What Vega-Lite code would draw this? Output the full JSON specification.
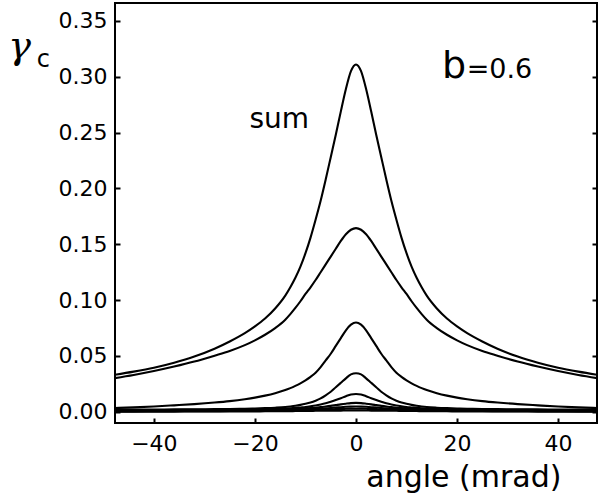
{
  "$schema": "https://vega.github.io/schema/vega-lite/v6.json",
  "width": 482,
  "height": 420,
  "autosize": {"type": "none"},
  "padding": {"left": 115, "top": 3, "right": 3, "bottom": 75},
  "background": "white",
  "config": {
    "view": {"stroke": "black", "strokeWidth": 2},
    "axis": {"domain": false, "grid": false, "tickColor": "black", "tickWidth": 2, "labelColor": "black", "titleColor": "black", "labelFont": "DejaVu Sans", "titleFont": "DejaVu Sans", "titleFontWeight": "normal"}
  },
  "datasets": {
    "curves": [
      {"x": -48, "s": 0.033, "a": 0.030, "b": 0.0034, "d": 0.002, "e": 0.0015, "f": 0.0012, "h": 0.0008, "k": 0.0004, "m": 0.0002},
      {"x": -44, "s": 0.036, "a": 0.033, "b": 0.004, "d": 0.002, "e": 0.0015, "f": 0.0012, "h": 0.0008, "k": 0.0004, "m": 0.0002},
      {"x": -40, "s": 0.0395, "a": 0.0365, "b": 0.0048, "d": 0.0021, "e": 0.0016, "f": 0.0013, "h": 0.0009, "k": 0.0005, "m": 0.0002},
      {"x": -36, "s": 0.044, "a": 0.0405, "b": 0.0058, "d": 0.0022, "e": 0.0017, "f": 0.0014, "h": 0.0009, "k": 0.0005, "m": 0.0002},
      {"x": -32, "s": 0.0495, "a": 0.045, "b": 0.0069, "d": 0.0023, "e": 0.0018, "f": 0.0015, "h": 0.001, "k": 0.0006, "m": 0.0003},
      {"x": -28, "s": 0.0565, "a": 0.0503, "b": 0.0083, "d": 0.0024, "e": 0.0019, "f": 0.0016, "h": 0.001, "k": 0.0006, "m": 0.0003},
      {"x": -25, "s": 0.063, "a": 0.0545, "b": 0.0096, "d": 0.0026, "e": 0.002, "f": 0.0017, "h": 0.0011, "k": 0.0007, "m": 0.0003},
      {"x": -22, "s": 0.0705, "a": 0.0597, "b": 0.0113, "d": 0.0028, "e": 0.0022, "f": 0.0018, "h": 0.0012, "k": 0.0008, "m": 0.0004},
      {"x": -20, "s": 0.0765, "a": 0.064, "b": 0.0127, "d": 0.003, "e": 0.0023, "f": 0.0019, "h": 0.0013, "k": 0.0009, "m": 0.0004},
      {"x": -18, "s": 0.0835, "a": 0.069, "b": 0.0145, "d": 0.0033, "e": 0.0025, "f": 0.002, "h": 0.0015, "k": 0.001, "m": 0.0005},
      {"x": -16, "s": 0.0925, "a": 0.075, "b": 0.0167, "d": 0.0037, "e": 0.0027, "f": 0.0022, "h": 0.0016, "k": 0.0011, "m": 0.0005},
      {"x": -14, "s": 0.104, "a": 0.0825, "b": 0.0195, "d": 0.0043, "e": 0.003, "f": 0.0024, "h": 0.0018, "k": 0.0012, "m": 0.0006},
      {"x": -13, "s": 0.1115, "a": 0.0875, "b": 0.0212, "d": 0.0048, "e": 0.0032, "f": 0.0025, "h": 0.0019, "k": 0.0012, "m": 0.0006},
      {"x": -12, "s": 0.120, "a": 0.093, "b": 0.0232, "d": 0.0054, "e": 0.0035, "f": 0.0026, "h": 0.002, "k": 0.0013, "m": 0.0007},
      {"x": -11, "s": 0.130, "a": 0.099, "b": 0.0255, "d": 0.0062, "e": 0.0039, "f": 0.0028, "h": 0.0021, "k": 0.0014, "m": 0.0007},
      {"x": -10, "s": 0.142, "a": 0.1055, "b": 0.0282, "d": 0.0072, "e": 0.0043, "f": 0.0031, "h": 0.0022, "k": 0.0015, "m": 0.0008},
      {"x": -9, "s": 0.156, "a": 0.1115, "b": 0.0313, "d": 0.0084, "e": 0.0049, "f": 0.0034, "h": 0.0024, "k": 0.0016, "m": 0.0008},
      {"x": -8, "s": 0.172, "a": 0.118, "b": 0.035, "d": 0.010, "e": 0.0056, "f": 0.0037, "h": 0.0026, "k": 0.0018, "m": 0.0009},
      {"x": -7, "s": 0.189, "a": 0.125, "b": 0.040, "d": 0.012, "e": 0.0065, "f": 0.0042, "h": 0.0028, "k": 0.0019, "m": 0.0009},
      {"x": -6, "s": 0.208, "a": 0.132, "b": 0.046, "d": 0.0148, "e": 0.0076, "f": 0.0047, "h": 0.0031, "k": 0.0021, "m": 0.001},
      {"x": -5, "s": 0.228, "a": 0.139, "b": 0.052, "d": 0.018, "e": 0.009, "f": 0.0053, "h": 0.0034, "k": 0.0022, "m": 0.001},
      {"x": -4, "s": 0.248, "a": 0.146, "b": 0.059, "d": 0.022, "e": 0.0105, "f": 0.006, "h": 0.0038, "k": 0.0024, "m": 0.0011},
      {"x": -3, "s": 0.269, "a": 0.153, "b": 0.066, "d": 0.026, "e": 0.0122, "f": 0.0067, "h": 0.0041, "k": 0.0026, "m": 0.0011},
      {"x": -2, "s": 0.289, "a": 0.159, "b": 0.073, "d": 0.030, "e": 0.014, "f": 0.0073, "h": 0.0045, "k": 0.0027, "m": 0.0012},
      {"x": -1, "s": 0.305, "a": 0.163, "b": 0.078, "d": 0.0335, "e": 0.0155, "f": 0.0078, "h": 0.0047, "k": 0.0028, "m": 0.0012},
      {"x": 0, "s": 0.311, "a": 0.1645, "b": 0.080, "d": 0.0345, "e": 0.016, "f": 0.008, "h": 0.0048, "k": 0.0028, "m": 0.0012},
      {"x": 1, "s": 0.305, "a": 0.163, "b": 0.078, "d": 0.0335, "e": 0.0155, "f": 0.0078, "h": 0.0047, "k": 0.0028, "m": 0.0012},
      {"x": 2, "s": 0.289, "a": 0.159, "b": 0.073, "d": 0.030, "e": 0.014, "f": 0.0073, "h": 0.0045, "k": 0.0027, "m": 0.0012},
      {"x": 3, "s": 0.269, "a": 0.153, "b": 0.066, "d": 0.026, "e": 0.0122, "f": 0.0067, "h": 0.0041, "k": 0.0026, "m": 0.0011},
      {"x": 4, "s": 0.248, "a": 0.146, "b": 0.059, "d": 0.022, "e": 0.0105, "f": 0.006, "h": 0.0038, "k": 0.0024, "m": 0.0011},
      {"x": 5, "s": 0.228, "a": 0.139, "b": 0.052, "d": 0.018, "e": 0.009, "f": 0.0053, "h": 0.0034, "k": 0.0022, "m": 0.001},
      {"x": 6, "s": 0.208, "a": 0.132, "b": 0.046, "d": 0.0148, "e": 0.0076, "f": 0.0047, "h": 0.0031, "k": 0.0021, "m": 0.001},
      {"x": 7, "s": 0.189, "a": 0.125, "b": 0.040, "d": 0.012, "e": 0.0065, "f": 0.0042, "h": 0.0028, "k": 0.0019, "m": 0.0009},
      {"x": 8, "s": 0.172, "a": 0.118, "b": 0.035, "d": 0.010, "e": 0.0056, "f": 0.0037, "h": 0.0026, "k": 0.0018, "m": 0.0009},
      {"x": 9, "s": 0.156, "a": 0.1115, "b": 0.0313, "d": 0.0084, "e": 0.0049, "f": 0.0034, "h": 0.0024, "k": 0.0016, "m": 0.0008},
      {"x": 10, "s": 0.142, "a": 0.1055, "b": 0.0282, "d": 0.0072, "e": 0.0043, "f": 0.0031, "h": 0.0022, "k": 0.0015, "m": 0.0008},
      {"x": 11, "s": 0.130, "a": 0.099, "b": 0.0255, "d": 0.0062, "e": 0.0039, "f": 0.0028, "h": 0.0021, "k": 0.0014, "m": 0.0007},
      {"x": 12, "s": 0.120, "a": 0.093, "b": 0.0232, "d": 0.0054, "e": 0.0035, "f": 0.0026, "h": 0.002, "k": 0.0013, "m": 0.0007},
      {"x": 13, "s": 0.1115, "a": 0.0875, "b": 0.0212, "d": 0.0048, "e": 0.0032, "f": 0.0025, "h": 0.0019, "k": 0.0012, "m": 0.0006},
      {"x": 14, "s": 0.104, "a": 0.0825, "b": 0.0195, "d": 0.0043, "e": 0.003, "f": 0.0024, "h": 0.0018, "k": 0.0012, "m": 0.0006},
      {"x": 16, "s": 0.0925, "a": 0.075, "b": 0.0167, "d": 0.0037, "e": 0.0027, "f": 0.0022, "h": 0.0016, "k": 0.0011, "m": 0.0005},
      {"x": 18, "s": 0.0835, "a": 0.069, "b": 0.0145, "d": 0.0033, "e": 0.0025, "f": 0.002, "h": 0.0015, "k": 0.001, "m": 0.0005},
      {"x": 20, "s": 0.0765, "a": 0.064, "b": 0.0127, "d": 0.003, "e": 0.0023, "f": 0.0019, "h": 0.0013, "k": 0.0009, "m": 0.0004},
      {"x": 22, "s": 0.0705, "a": 0.0597, "b": 0.0113, "d": 0.0028, "e": 0.0022, "f": 0.0018, "h": 0.0012, "k": 0.0008, "m": 0.0004},
      {"x": 25, "s": 0.063, "a": 0.0545, "b": 0.0096, "d": 0.0026, "e": 0.002, "f": 0.0017, "h": 0.0011, "k": 0.0007, "m": 0.0003},
      {"x": 28, "s": 0.0565, "a": 0.0503, "b": 0.0083, "d": 0.0024, "e": 0.0019, "f": 0.0016, "h": 0.001, "k": 0.0006, "m": 0.0003},
      {"x": 32, "s": 0.0495, "a": 0.045, "b": 0.0069, "d": 0.0023, "e": 0.0018, "f": 0.0015, "h": 0.001, "k": 0.0006, "m": 0.0003},
      {"x": 36, "s": 0.044, "a": 0.0405, "b": 0.0058, "d": 0.0022, "e": 0.0017, "f": 0.0014, "h": 0.0009, "k": 0.0005, "m": 0.0002},
      {"x": 40, "s": 0.0395, "a": 0.0365, "b": 0.0048, "d": 0.0021, "e": 0.0016, "f": 0.0013, "h": 0.0009, "k": 0.0005, "m": 0.0002},
      {"x": 44, "s": 0.036, "a": 0.033, "b": 0.004, "d": 0.002, "e": 0.0015, "f": 0.0012, "h": 0.0008, "k": 0.0004, "m": 0.0002},
      {"x": 48, "s": 0.033, "a": 0.030, "b": 0.0034, "d": 0.002, "e": 0.0015, "f": 0.0012, "h": 0.0008, "k": 0.0004, "m": 0.0002}
    ]
  },
  "resolve": {"axis": {"x": "independent", "y": "independent"}},
  "layer": [
    {
      "data": {"name": "curves"},
      "transform": [{"fold": ["s", "a", "b", "d", "e", "f", "h", "k", "m"], "as": ["curve", "value"]}],
      "mark": {"type": "line", "interpolate": "monotone", "clip": true, "color": "black", "strokeWidth": 2.1},
      "encoding": {
        "x": {"field": "x", "type": "quantitative",
          "scale": {"domain": [-47.7, 47.7], "nice": false, "zero": false},
          "axis": {"orient": "bottom", "values": [-40, -20, 0, 20, 40], "format": "d", "offset": -5, "tickSize": 5, "labelPadding": 10, "labelFontSize": 22, "labelFlush": false,
            "title": "angle (mrad)", "titleFontSize": 30, "titleAnchor": "end", "titleAlign": "right", "titleBaseline": "alphabetic", "titleX": 446, "titleY": 68}},
        "y": {"field": "value", "type": "quantitative",
          "scale": {"domain": [-0.01, 0.366], "nice": false, "zero": false},
          "axis": {"orient": "left", "values": [0, 0.05, 0.1, 0.15, 0.2, 0.25, 0.3, 0.35], "format": ".2f", "offset": -5, "tickSize": 5, "labelPadding": 8, "labelFontSize": 22, "labelFlush": false,
            "title": "γ", "titleFont": "DejaVu Serif", "titleFontStyle": "italic", "titleFontSize": 38, "titleAngle": 0, "titleAlign": "center", "titleBaseline": "alphabetic", "titleX": -101, "titleY": 54}},
        "detail": {"field": "curve"}
      }
    },
    {
      "data": {"values": [{"label": "c", "x": -63.2, "y": 0.309}]},
      "mark": {"type": "text", "font": "DejaVu Sans", "fontSize": 24, "align": "left", "baseline": "alphabetic", "color": "black"},
      "encoding": {
        "x": {"field": "x", "type": "quantitative", "axis": null},
        "y": {"field": "y", "type": "quantitative",
          "axis": {"orient": "right", "values": [0, 0.05, 0.1, 0.15, 0.2, 0.25, 0.3, 0.35], "labels": false, "offset": -5, "tickSize": 5, "title": null}},
        "text": {"field": "label"}
      }
    },
    {
      "data": {"values": [{"label": "sum", "x": -15.2, "y": 0.2545}]},
      "mark": {"type": "text", "font": "DejaVu Sans", "fontSize": 28, "align": "center", "baseline": "alphabetic", "color": "black"},
      "encoding": {
        "x": {"field": "x", "type": "quantitative", "axis": null},
        "y": {"field": "y", "type": "quantitative", "axis": null},
        "text": {"field": "label"}
      }
    },
    {
      "data": {"values": [{"label": "b", "x": 17.0, "y": 0.2993}]},
      "mark": {"type": "text", "font": "DejaVu Sans", "fontSize": 38, "align": "left", "baseline": "alphabetic", "color": "black"},
      "encoding": {
        "x": {"field": "x", "type": "quantitative", "axis": null},
        "y": {"field": "y", "type": "quantitative", "axis": null},
        "text": {"field": "label"}
      }
    },
    {
      "data": {"values": [{"label": "=0.6", "x": 21.9, "y": 0.2993}]},
      "mark": {"type": "text", "font": "DejaVu Sans", "fontSize": 27, "align": "left", "baseline": "alphabetic", "color": "black"},
      "encoding": {
        "x": {"field": "x", "type": "quantitative", "axis": null},
        "y": {"field": "y", "type": "quantitative", "axis": null},
        "text": {"field": "label"}
      }
    }
  ]
}
